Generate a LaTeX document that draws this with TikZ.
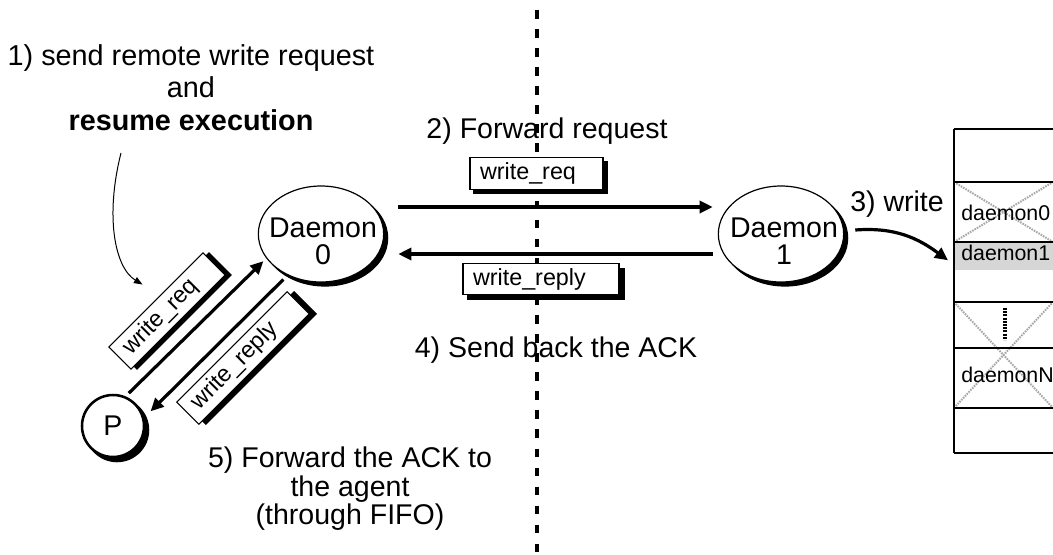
\documentclass[tikz,border=0pt]{standalone}
\usepackage{fontspec}
\setmainfont{Liberation Sans}
\usetikzlibrary{arrows.meta,shapes.geometric}
\definecolor{xgray}{HTML}{A8A8A8}
\definecolor{rowgray}{HTML}{D6D6D6}
\begin{document}
\begin{tikzpicture}[x=0.75pt,y=-0.75pt,
  txt/.style={font=\fontsize{21.4pt}{23.25pt}\selectfont, inner sep=0pt, align=center},
  txtone/.style={font=\fontsize{21.6pt}{24.5pt}\selectfont, inner sep=0pt, align=center},
  txtfive/.style={font=\fontsize{21.4pt}{21.4pt}\selectfont, inner sep=0pt, align=center},
  dtxt/.style={font=\fontsize{21.4pt}{20.25pt}\selectfont, inner sep=0pt, align=center},
  tlabel/.style={font=\fontsize{16pt}{18pt}\selectfont, inner sep=0pt},
  ellbase/.style={ellipse, draw, line width=0.9pt, minimum width=94pt, minimum height=72pt, inner sep=0pt},
  ell/.style={ellbase, fill=white},
  ellsh/.style={ellbase, fill=black},
  pbase/.style={circle, draw, line width=1.9pt, minimum size=46.5pt, inner sep=0pt},
  pn/.style={pbase, fill=white, font=\fontsize{21.4pt}{23.25pt}\selectfont},
  pnsh/.style={pbase, fill=black},
  msg/.style={draw, line width=0.8pt, fill=white, font=\fontsize{17.5pt}{20pt}\selectfont,
    inner xsep=7.5pt, inner ysep=0pt, minimum height=23.5pt, align=left},
  msgsh/.style={msg, fill=black},
  arr/.style={line width=2.4pt, -{Triangle[length=9.75pt,width=9pt]}},
  thinarr/.style={line width=0.75pt, -{Triangle[length=6.5pt,width=5pt]}},
  dline/.style={line width=2.5pt, dash pattern=on 6.4pt off 7.9pt},
  tline/.style={line width=1pt},
  xline/.style={line width=1.5pt, xgray, dash pattern=on 1.2pt off 0.8pt},
  vdots/.style={line width=2.8pt, dash pattern=on 1.5pt off 0.9pt}
]
\useasboundingbox (0,0) rectangle (1053,554);

% divider
\draw[dline] (537,10) -- (537,554);

% table
\node[fill=rowgray, minimum width=74.25pt, minimum height=21pt, inner sep=0pt, anchor=north west] (r1) at (954,242) {};
\draw[xline] (954,182) -- (1053,242);
\draw[xline] (954,242) -- (1053,182);
\draw[xline] (954,302) -- (1053,408);
\draw[xline] (954,408) -- (1053,302);
\foreach \yy in {129,182,242,302,348,408,453} \draw[tline] (954,\yy) -- (1053,\yy);
\draw[tline] (954,129) -- (954,453);
\draw[vdots] (1005,308) -- (1005,340);
\node[tlabel, anchor=base west] (c0) at (961,220) {daemon0};
\node[tlabel, anchor=base west] (c1) at (961,260) {daemon1};
\node[tlabel, anchor=base west] (cN) at (961,382) {daemonN};

% texts
\node[txtone] (t1) at (191,87.5) {1) send remote write request\\and\\\textbf{resume execution}};
\node[txt, anchor=base] (t2) at (547,138) {2) Forward request};
\node[txt, anchor=base west] (t3) at (850,211) {3) write};
\node[txt, anchor=base] (t4) at (556,357) {4) Send back the ACK};
\node[txtfive] (t5) at (350,489) {5) Forward the ACK to\\the agent\\(through FIFO)};

% daemons and P (with drop shadows)
\node[ellsh] (d0s) at (325,238) {};
\node[ell] (d0) at (321,234) {};
\node[dtxt] (d0t) at (323,241) {Daemon\\0};
\node[ellsh] (d1s) at (785,238) {};
\node[ell] (d1) at (781,234) {};
\node[dtxt] (d1t) at (784,241) {Daemon\\1};
\node[pnsh] (Ps) at (117,430) {};
\node[pn] (P) at (113,426) {P};

% message boxes (with drop shadows)
\node[msgsh, text width=84.75pt] (wr1s) at (540.5,177.5) {};
\node[msg, text width=84.75pt] (wr1) at (536.5,173.5) {write\_req};
\node[msgsh, text width=102pt] (wp1s) at (546,284) {};
\node[msg, text width=102pt] (wp1) at (541,279) {write\_reply};
\node[msgsh, rotate=45, text width=84.75pt] (wr2s) at (173,311) {};
\node[msg, rotate=45, text width=84.75pt] (wr2) at (167,311) {write\_req};
\node[msgsh, rotate=45, text width=102pt] (wp2s) at (250,358) {};
\node[msg, rotate=45, text width=102pt] (wp2) at (243,358) {write\_reply};

% arrows
\draw[arr] ([shift={(14,-27)}]d0.east) -- ([shift={(-5,-27)}]d1.west);
\draw[arr] ([shift={(-5,20)}]d1.west) -- ([shift={(14,20)}]d0.east);
\draw[arr, shorten <=3.4pt, shorten >=3pt] (P.67) -- (d0.204);
\draw[arr, shorten <=4.5pt, shorten >=6.75pt] (d0.231) -- (P.15);
\draw[arr] ([shift={(11,-4)}]d1.east) .. controls +(40,-3) and +(-30,-22) .. ([shift={(-6,4)}]r1.west);
\draw[thinarr] ([shift={(-70,22)}]t1.south) .. controls +(-16,63) and +(-28,-17) .. ([shift={(-13,-15)}]wr2.north);
\end{tikzpicture}
\end{document}
